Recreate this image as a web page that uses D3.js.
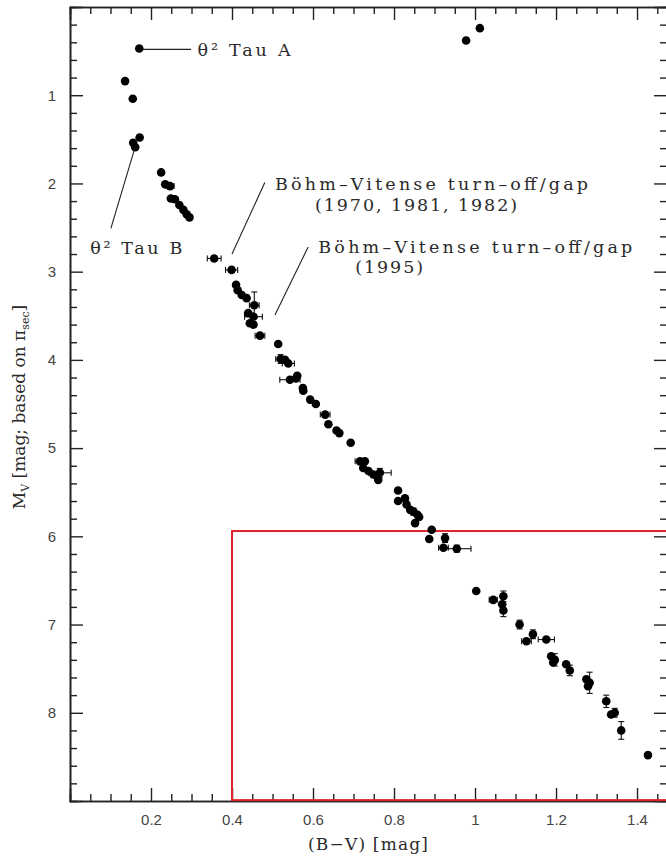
<!DOCTYPE html>
<html>
<head>
<meta charset="utf-8">
<script src="https://cdn.jsdelivr.net/npm/d3@7"></script>
<style>
  html, body { margin: 0; padding: 0; background: #fff; }
  svg { display: block; }
</style>
</head>
<body>
<svg id="chart" width="666" height="863"></svg>
<script>
// ---- data ----
const bv = [0.171,0.136,0.155,0.156,0.161,0.172,0.978,1.012,
  0.225,0.235,0.247,0.249,0.259,0.270,0.280,0.288,0.295,
  0.356,0.399,0.410,0.414,0.424,0.436,0.455,0.440,0.453,0.444,0.453,0.469,
  0.514,0.520,0.531,0.539,0.543,0.558,0.561,0.575,0.576,0.593,0.607,0.630,0.638,0.658,0.665,
  0.693,0.716,0.728,0.724,0.737,0.749,0.765,0.761,
  0.810,0.810,0.827,0.831,0.840,0.848,0.858,0.862,0.852,0.893,0.887,0.926,0.922,0.955,
  1.003,1.045,1.070,1.067,1.070,1.110,1.127,1.143,1.176,1.188,1.197,1.193,1.225,1.234,
  1.275,1.283,1.279,1.324,1.336,1.345,1.361,1.427];
const mv = [0.47,0.84,1.04,1.54,1.59,1.48,0.38,0.24,
  1.875,2.01,2.03,2.17,2.18,2.245,2.30,2.35,2.385,
  2.85,2.98,3.15,3.21,3.265,3.30,3.38,3.47,3.51,3.585,3.60,3.725,
  3.82,3.99,4.00,4.04,4.225,4.21,4.18,4.32,4.35,4.45,4.50,4.62,4.73,4.80,4.83,
  4.94,5.15,5.15,5.225,5.26,5.30,5.28,5.36,
  5.48,5.60,5.57,5.64,5.70,5.72,5.755,5.78,5.85,5.925,6.03,6.02,6.13,6.14,
  6.62,6.72,6.68,6.77,6.84,7.00,7.19,7.11,7.17,7.36,7.40,7.43,7.45,7.52,
  7.62,7.66,7.70,7.87,8.02,8.00,8.20,8.48];
const bvErr = [0,0,0,0,0,0,0,0,
  0,0,0.01,0,0,0,0,0,0,
  0.017,0.015,0,0,0,0,0.012,0,0.022,0,0,0.012,
  0,0.012,0,0.015,0.025,0,0,0,0,0,0,0.012,0,0,0,
  0,0.012,0,0,0,0,0.028,0,
  0,0,0,0,0,0,0,0,0,0,0,0,0.012,0.035,
  0,0.01,0,0,0,0,0.012,0,0.02,0,0,0,0,0,
  0,0,0,0,0,0,0,0];
const mvErr = [0,0,0,0,0,0,0,0,
  0,0,0,0,0,0,0,0,0,
  0,0,0,0,0,0,0.15,0,0,0,0,0,
  0,0.05,0,0,0,0,0,0,0,0,0,0,0,0,0,
  0,0,0,0,0,0,0.05,0,
  0,0,0,0,0,0.04,0,0,0,0,0,0.05,0,0.04,
  0,0,0.06,0,0.07,0.05,0,0.05,0,0,0.07,0,0,0.06,
  0,0.12,0,0.07,0,0.05,0.10,0];

const xMajorTicks = [0.2,0.4,0.6,0.8,1.0,1.2,1.4];
const xTickLabels = ["0.2","0.4","0.6","0.8","1","1.2","1.4"];
const yMajorTicks = [1,2,3,4,5,6,7,8];
const yTickLabels = ["1","2","3","4","5","6","7","8"];

// selection box (red): B-V >= 0.4, Mv >= 5.94
const boxBV = [0.4, 1.6];
const boxMV = [5.94, 8.99];

// annotations: text lines (data coords of text start / baseline) and leader lines
const annoText = [
  {t:"θ² Tau A", bv:0.315, mv:0.555},
  {t:"θ² Tau B", bv:0.05, mv:2.80},
  {t:"Böhm–Vitense turn–off/gap", bv:0.506, mv:2.075},
  {t:"(1970, 1981, 1982)", bv:0.605, mv:2.31},
  {t:"Böhm–Vitense turn–off/gap", bv:0.613, mv:2.79},
  {t:"(1995)", bv:0.704, mv:3.015}
];
const annoLines = [
  {bv1:0.180, mv1:0.48, bv2:0.299, mv2:0.48},
  {bv1:0.101, mv1:2.51, bv2:0.160, mv2:1.60},
  {bv1:0.400, mv1:2.80, bv2:0.481, mv2:1.99},
  {bv1:0.506, mv1:3.49, bv2:0.588, mv2:2.72}
];
const annoWidths = [93, 92, 313, 202, 314, 68];

// ---- layout ----
const svg = d3.select("#chart");
const L = 70, R = 667, T = 7, B = 801;
const x = d3.scaleLinear().domain([0, 1.474]).range([L, R]);
const y = d3.scaleLinear().domain([0, 9]).range([T, B]);

const axisColor = "#222";
const tickFont = "'Liberation Sans', Arial, sans-serif";
const serif = "'DejaVu Serif', serif";

const xMinor = d3.range(0.05, 1.474, 0.05).filter(v => !xMajorTicks.some(m => Math.abs(m - v) < 1e-6));
const yMinor = d3.range(0.2, 9, 0.2).filter(v => Math.abs(v - Math.round(v)) > 1e-6);

function styleAxis(g) {
  g.selectAll("path, line").attr("stroke", axisColor).attr("stroke-width", 1.4);
  g.selectAll("text").attr("fill", "#444").style("font-family", tickFont).style("font-size", "15px");
}

// bottom
svg.append("g").attr("transform", `translate(0,${B})`)
  .call(d3.axisBottom(x).tickValues(xMajorTicks).tickFormat((d,i) => xTickLabels[i]).tickSize(-13).tickPadding(13))
  .call(styleAxis);
svg.append("g").attr("transform", `translate(0,${B})`)
  .call(d3.axisBottom(x).tickValues(xMinor).tickFormat("").tickSize(-7)).call(styleAxis);
// top
svg.append("g").attr("transform", `translate(0,${T})`)
  .call(d3.axisTop(x).tickValues(xMajorTicks).tickFormat("").tickSize(-13)).call(styleAxis);
svg.append("g").attr("transform", `translate(0,${T})`)
  .call(d3.axisTop(x).tickValues(xMinor).tickFormat("").tickSize(-7)).call(styleAxis);
// left
svg.append("g").attr("transform", `translate(${L},0)`)
  .call(d3.axisLeft(y).tickValues(yMajorTicks).tickFormat((d,i) => yTickLabels[i]).tickSize(-13).tickPadding(14))
  .call(styleAxis);
svg.append("g").attr("transform", `translate(${L},0)`)
  .call(d3.axisLeft(y).tickValues(yMinor).tickFormat("").tickSize(-7)).call(styleAxis);
// right
svg.append("g").attr("transform", `translate(${R},0)`)
  .call(d3.axisRight(y).tickValues(yMajorTicks).tickFormat("").tickSize(-13)).call(styleAxis);
svg.append("g").attr("transform", `translate(${R},0)`)
  .call(d3.axisRight(y).tickValues(yMinor).tickFormat("").tickSize(-7)).call(styleAxis);

svg.selectAll(".domain").attr("stroke-width", 1.6);

// red selection box
svg.append("rect")
  .attr("x", x(boxBV[0])).attr("y", y(boxMV[0]))
  .attr("width", x(boxBV[1]) - x(boxBV[0])).attr("height", y(boxMV[1]) - y(boxMV[0]))
  .attr("fill", "none").attr("stroke", "#e0202a").attr("stroke-width", 2);

// points
const pts = bv.map((v,i) => ({bv:v, mv:mv[i], ex:bvErr[i], ey:mvErr[i]}));
const gErr = svg.append("g").attr("stroke", "#111").attr("stroke-width", 1.1);
const cap = 3;
pts.filter(d => d.ex > 0).forEach(d => {
  const x1 = x(d.bv - d.ex), x2 = x(d.bv + d.ex), yy = y(d.mv);
  gErr.append("line").attr("x1", x1).attr("x2", x2).attr("y1", yy).attr("y2", yy);
  gErr.append("line").attr("x1", x1).attr("x2", x1).attr("y1", yy - cap).attr("y2", yy + cap);
  gErr.append("line").attr("x1", x2).attr("x2", x2).attr("y1", yy - cap).attr("y2", yy + cap);
});
pts.filter(d => d.ey > 0).forEach(d => {
  const y1 = y(d.mv - d.ey), y2 = y(d.mv + d.ey), xx = x(d.bv);
  gErr.append("line").attr("x1", xx).attr("x2", xx).attr("y1", y1).attr("y2", y2);
  gErr.append("line").attr("x1", xx - cap).attr("x2", xx + cap).attr("y1", y1).attr("y2", y1);
  gErr.append("line").attr("x1", xx - cap).attr("x2", xx + cap).attr("y1", y2).attr("y2", y2);
});
svg.append("g").selectAll("circle").data(pts).join("circle")
  .attr("cx", d => x(d.bv)).attr("cy", d => y(d.mv)).attr("r", 4.3).attr("fill", "#000");

// annotations
svg.append("g").selectAll("line").data(annoLines).join("line")
  .attr("x1", d => x(d.bv1)).attr("y1", d => y(d.mv1))
  .attr("x2", d => x(d.bv2)).attr("y2", d => y(d.mv2))
  .attr("stroke", "#222").attr("stroke-width", 1.1);
svg.append("g").selectAll("text").data(annoText).join("text")
  .attr("x", d => x(d.bv)).attr("y", d => y(d.mv))
  .attr("textLength", (d,i) => annoWidths[i]).attr("lengthAdjust", "spacing")
  .style("font-family", serif).style("font-size", "17.5px").attr("fill", "#2a2a2a")
  .text(d => d.t);

// axis titles
svg.append("text")
  .attr("x", 368).attr("y", 850).attr("text-anchor", "middle")
  .attr("textLength", 120).attr("lengthAdjust", "spacing")
  .style("font-family", serif).style("font-size", "17px").attr("fill", "#2a2a2a")
  .text("(B−V) [mag]");

const yl = svg.append("text")
  .attr("transform", `translate(25,${407}) rotate(-90)`)
  .attr("text-anchor", "middle")
  .style("font-family", serif).style("font-size", "17px").attr("fill", "#2a2a2a");
yl.append("tspan").text("M");
yl.append("tspan").attr("dy", 4).style("font-size", "11px").text("V");
yl.append("tspan").attr("dy", -4).text(" [mag; based on π");
yl.append("tspan").attr("dy", 4).style("font-size", "11px").text("sec");
yl.append("tspan").attr("dy", -4).text("]");
</script>
</body>
</html>
